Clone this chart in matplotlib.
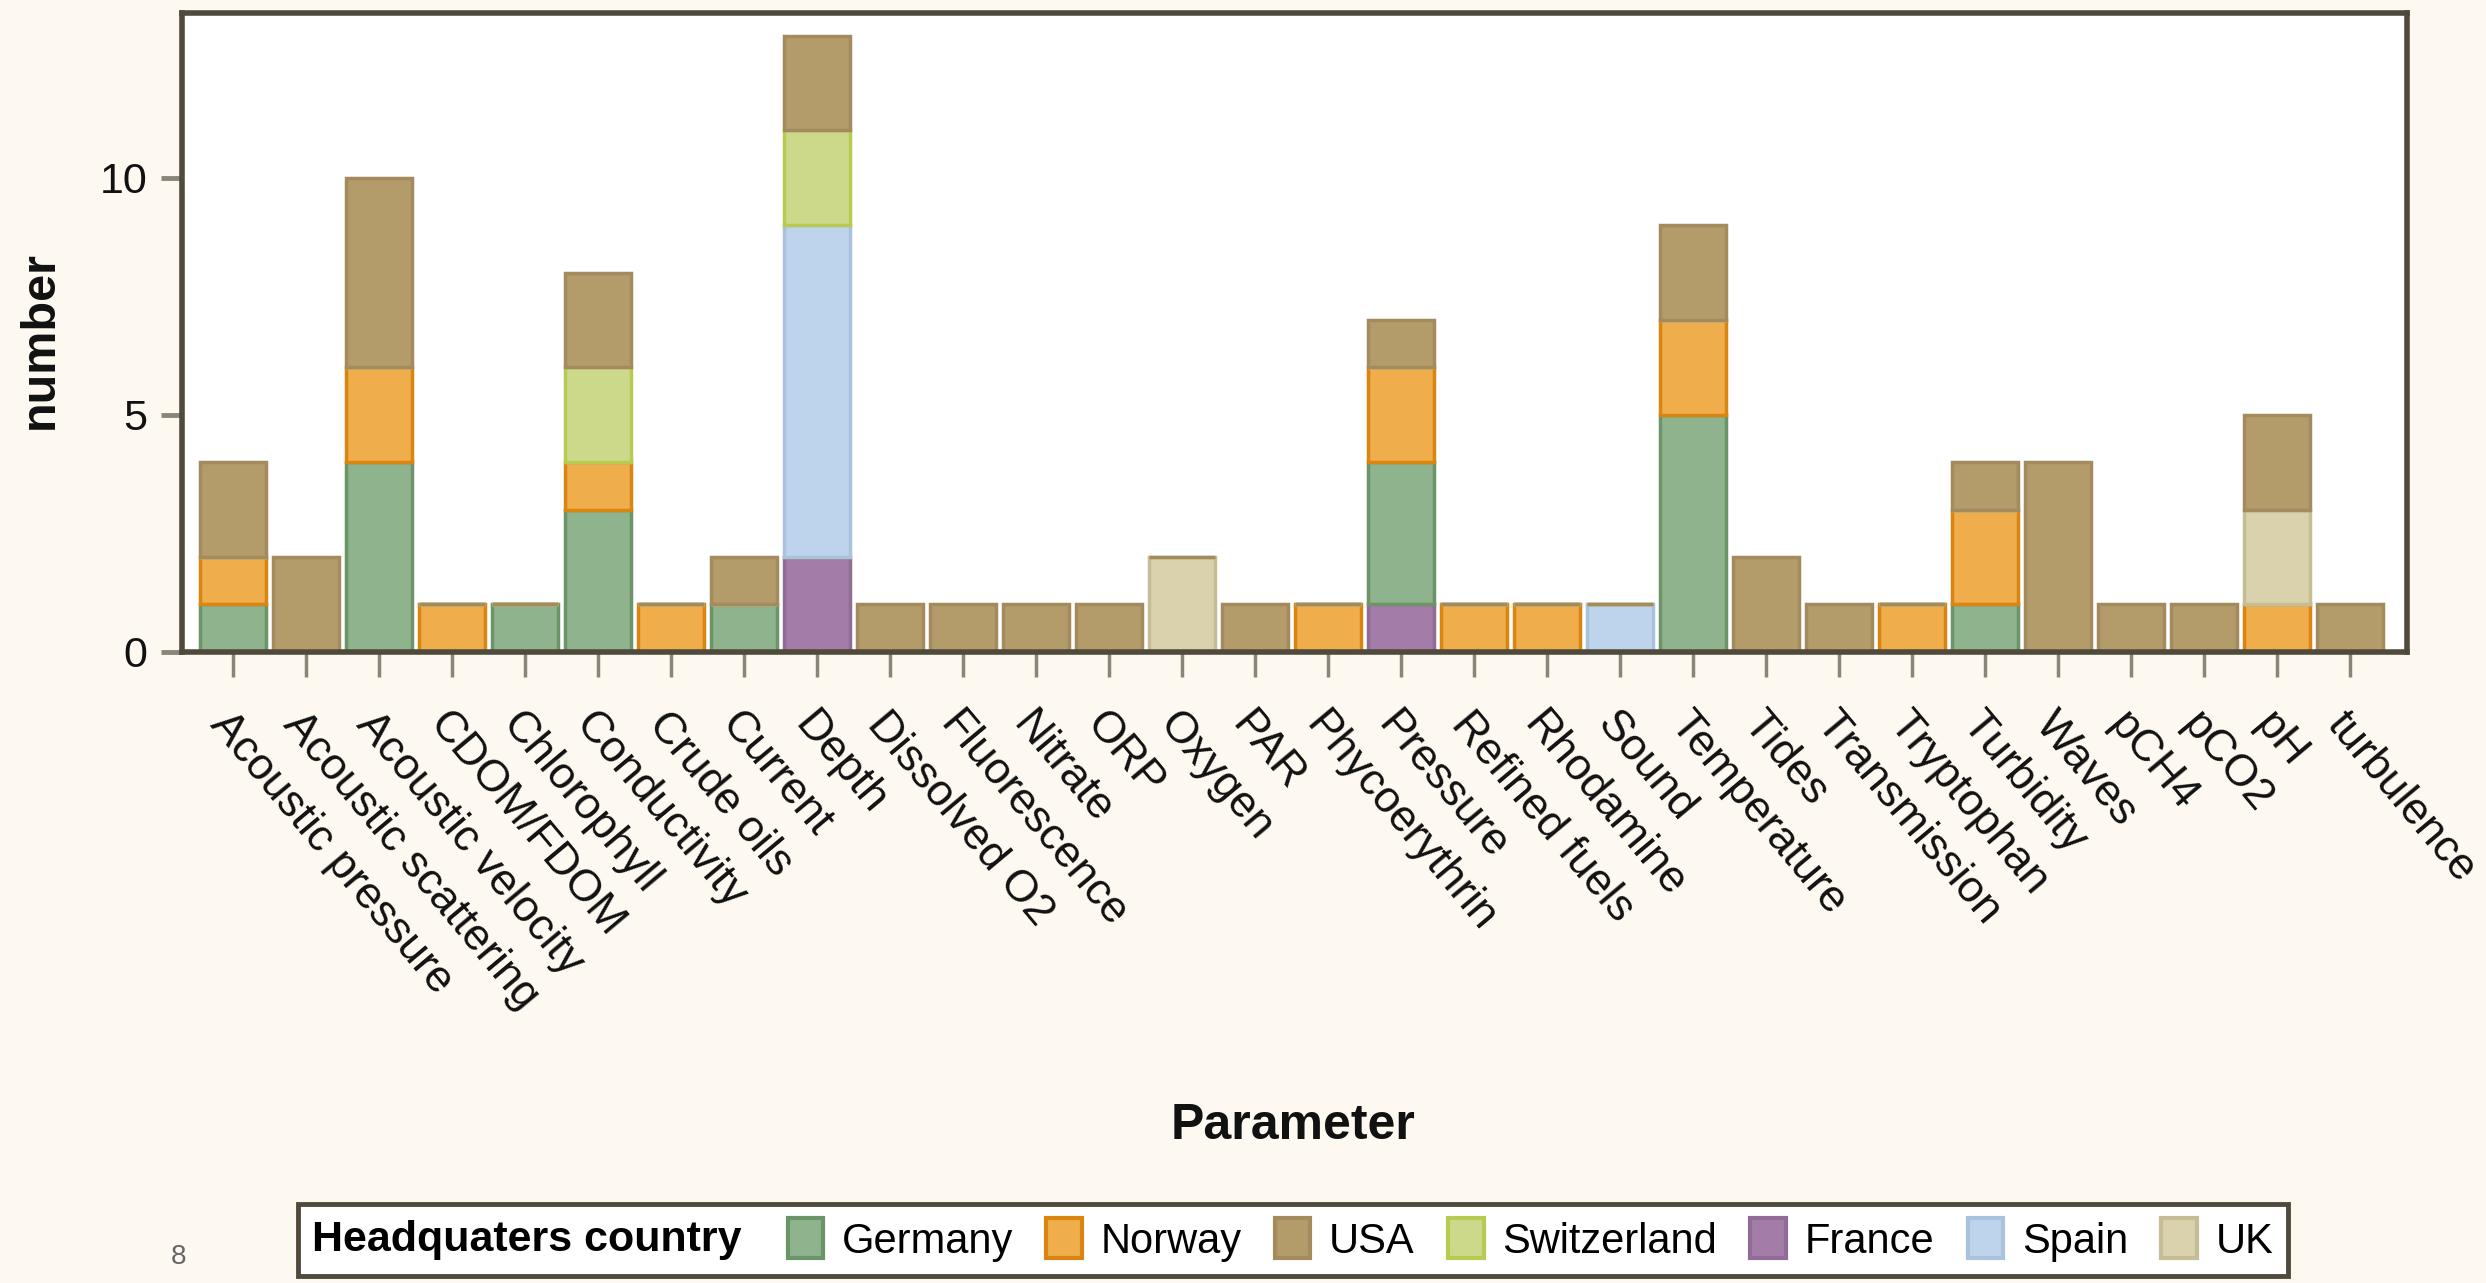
import matplotlib
matplotlib.use("Agg")
import matplotlib.pyplot as plt
from matplotlib.patches import Patch
from matplotlib.offsetbox import HPacker
import numpy as np

categories = ["Acoustic pressure", "Acoustic scattering", "Acoustic velocity", "CDOM/FDOM",
              "Chlorophyll", "Conductivity", "Crude oils", "Current", "Depth", "Dissolved O2",
              "Fluorescence", "Nitrate", "ORP", "Oxygen", "PAR", "Phycoerythrin", "Pressure",
              "Refined fuels", "Rhodamine", "Sound", "Temperature", "Tides", "Transmission",
              "Tryptophan", "Turbidity", "Waves", "pCH4", "pCO2", "pH", "turbulence"]

france      = [0, 0, 0, 0, 0, 0, 0, 0, 2, 0, 0, 0, 0, 0, 0, 0, 1, 0, 0, 0, 0, 0, 0, 0, 0, 0, 0, 0, 0, 0]
germany     = [1, 0, 4, 0, 1, 3, 0, 1, 0, 0, 0, 0, 0, 0, 0, 0, 3, 0, 0, 0, 5, 0, 0, 0, 1, 0, 0, 0, 0, 0]
norway      = [1, 0, 2, 1, 0, 1, 1, 0, 0, 0, 0, 0, 0, 0, 0, 1, 2, 1, 1, 0, 2, 0, 0, 1, 2, 0, 0, 0, 1, 0]
spain       = [0, 0, 0, 0, 0, 0, 0, 0, 7, 0, 0, 0, 0, 0, 0, 0, 0, 0, 0, 1, 0, 0, 0, 0, 0, 0, 0, 0, 0, 0]
switzerland = [0, 0, 0, 0, 0, 2, 0, 0, 2, 0, 0, 0, 0, 0, 0, 0, 0, 0, 0, 0, 0, 0, 0, 0, 0, 0, 0, 0, 0, 0]
uk          = [0, 0, 0, 0, 0, 0, 0, 0, 0, 0, 0, 0, 0, 2, 0, 0, 0, 0, 0, 0, 0, 0, 0, 0, 0, 0, 0, 0, 2, 0]
usa         = [2, 2, 4, 0, 0, 2, 0, 1, 2, 1, 1, 1, 1, 0, 1, 0, 1, 0, 0, 0, 2, 2, 1, 0, 1, 4, 1, 1, 2, 1]

y_ticks = [0, 5, 10]
legend_order = ["Germany", "Norway", "USA", "Switzerland", "France", "Spain", "UK"]

series = {"France": france, "Germany": germany, "Norway": norway, "Spain": spain,
          "Switzerland": switzerland, "UK": uk, "USA": usa}
fills = {"Germany": "#8fb48d", "Norway": "#f0ad4b", "USA": "#b39b6a", "Switzerland": "#ccd98a",
         "France": "#a37ca8", "Spain": "#bed4ed", "UK": "#d9d2ad"}
edges = {"Germany": "#6b9468", "Norway": "#d9850f", "USA": "#a48b5e", "Switzerland": "#b8ca52",
         "France": "#916c96", "Spain": "#a9c2dd", "UK": "#c6bd95"}

BG = "#fdf9f0"
DARK = "#4f4a3c"
plt.rcParams["font.family"] = ["Liberation Sans", "DejaVu Sans"]

fig = plt.figure(figsize=(24.86, 12.83), dpi=100, facecolor=BG)
ax = fig.add_axes([0.0733, 0.492, 0.8950, 0.4980])
ax.set_facecolor("white")

x = np.arange(len(categories))
bottom = np.zeros(len(categories))
for name in ["France", "Germany", "Norway", "Spain", "Switzerland", "UK", "USA"]:
    vals = np.array(series[name], dtype=float)
    ax.bar(x, vals, bottom=bottom, width=0.9, color=fills[name], edgecolor=edges[name],
           linewidth=2.5, zorder=2)
    bottom += vals

ax.set_xlim(-0.70, len(categories) - 1 + 0.78)
ax.set_ylim(0, 13.48)
ax.set_yticks(y_ticks)
ax.set_xticks(x)
ax.set_xticklabels(categories, rotation=-50, ha="left", va="top", rotation_mode="anchor",
                   fontsize=32, color="#111111")
ax.tick_params(axis="y", labelsize=31, length=15, width=3.5, color="#8a8578", pad=10,
               labelcolor="#111111")
ax.tick_params(axis="x", length=18, width=2.5, color="#8a8578", pad=20)
for s in ax.spines.values():
    s.set_color(DARK)
    s.set_linewidth(4)

fig.text(40 / 2486, 1 - 340 / 1283, "number", fontsize=35, fontweight="bold",
         rotation=90, ha="center", va="center", color="#111111")
fig.text(0.520, 1 - 1126 / 1283, "Parameter", fontsize=36, fontweight="bold",
         ha="center", va="center", color="#111111")

handles = [Patch(facecolor=fills[n], edgecolor=edges[n], linewidth=3) for n in legend_order]
leg = fig.legend(handles, legend_order, loc="center", bbox_to_anchor=(0.520, 0.0335),
                 ncol=len(legend_order), fontsize=30, title="Headquaters country",
                 title_fontproperties={"size": 31, "weight": "bold"},
                 frameon=True, fancybox=False, edgecolor=DARK, facecolor="white",
                 framealpha=1, handlelength=0.85, handleheight=1.1, handletextpad=0.45,
                 columnspacing=0.8, borderpad=0.35, borderaxespad=0)
leg.get_frame().set_linewidth(3.5)
# put the title inline, to the left of the entries
box = HPacker(pad=leg.borderpad * leg._fontsize, sep=1.1 * leg._fontsize, align="center",
              children=[leg._legend_title_box, leg._legend_handle_box])
box.set_figure(fig)
box.set_offset(leg._findoffset)
leg._legend_box = box

fig.text(179 / 2486, 1 - 1257 / 1283, "8", fontsize=20, color="#666666", ha="center", va="center")

fig.savefig("out.png", dpi=100, facecolor=BG)
